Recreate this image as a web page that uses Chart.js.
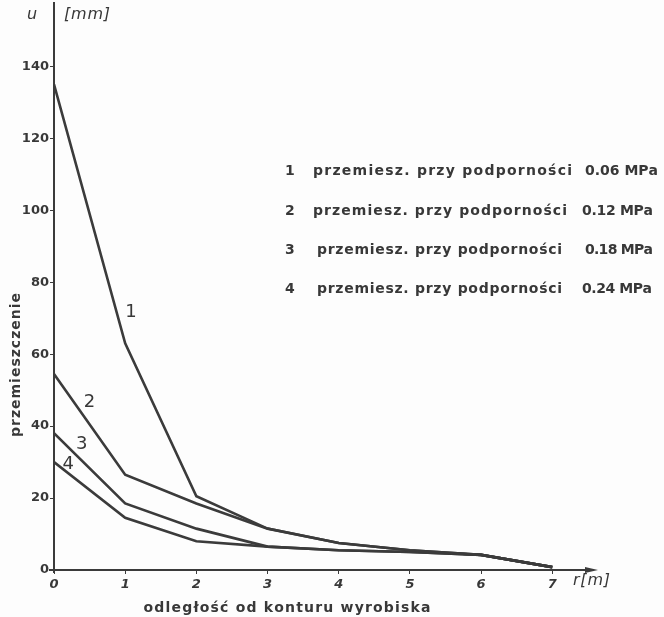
<!DOCTYPE html>
<html lang="pl">
<head>
<meta charset="UTF-8">
<title>Przemieszczenie u w funkcji odległości r</title>
<script src="https://cdn.jsdelivr.net/npm/chart.js"></script>
<style>
  html, body { margin: 0; padding: 0; background: #fdfdfd; }
  #wrap { width: 664px; height: 617px; }
</style>
</head>
<body>
<div id="wrap"><canvas id="chart" width="664" height="617"></canvas></div>
<script>
// odległość od konturu wyrobiska r [m]
const distances = [0, 1, 2, 3, 4, 5, 6, 7];
// przemieszczenie u [mm] dla kolejnych podporności
const disp006 = [135, 63, 20.5, 11.5, 7.5, 5.5, 4.2, 0.8];
const disp012 = [54.5, 26.5, 18.5, 11.5, 7.5, 5.5, 4.2, 0.8];
const disp018 = [38, 18.5, 11.5, 6.5, 5.5, 5, 4.2, 0.8];
const disp024 = [30, 14.5, 8, 6.5, 5.5, 5, 4.2, 0.8];
const curveNumbers = ['1', '2', '3', '4'];
const supports = ['0.06 MPa', '0.12 MPa', '0.18 MPa', '0.24 MPa'];
const xTicks = [0, 1, 2, 3, 4, 5, 6, 7];
const yTicks = [0, 20, 40, 60, 80, 100, 120, 140];

const ink = '#3b3b3b';
const textInk = '#383838';
const font = '"DejaVu Sans", sans-serif';

function points(arr) {
  return distances.map((d, i) => ({ x: d, y: arr[i] }));
}

// where the curve numbers sit, in data units
const numberAt = [
  { x: 1.08, y: 71.5 },
  { x: 0.5, y: 46.5 },
  { x: 0.39, y: 35 },
  { x: 0.2, y: 29.5 }
];

// draw text stretched to a given width by spreading the letters
function spaced(c, text, x, y, width, align) {
  const chars = [...text];
  const natural = chars.reduce((s, ch) => s + c.measureText(ch).width, 0);
  const gap = chars.length > 1 ? (width - natural) / (chars.length - 1) : 0;
  let cx = align === 'center' ? x - width / 2 : x;
  c.textAlign = 'left';
  chars.forEach(ch => {
    c.fillText(ch, cx, y);
    cx += c.measureText(ch).width + gap;
  });
}

const decor = {
  id: 'decor',
  beforeDraw(chart) {
    const c = chart.ctx;
    c.save();
    c.fillStyle = '#fdfdfd';
    c.fillRect(0, 0, chart.width, chart.height);
    c.restore();
  },
  afterDraw(chart) {
    const c = chart.ctx;
    const xs = chart.scales.x, ys = chart.scales.y;
    const x0 = xs.getPixelForValue(0), y0 = ys.getPixelForValue(0);
    c.save();
    // axes with arrows
    c.strokeStyle = ink;
    c.fillStyle = ink;
    c.lineWidth = 2;
    c.beginPath();
    c.moveTo(x0, y0 + 3);
    c.lineTo(x0, 2);
    c.moveTo(x0 - 5, y0);
    c.lineTo(592, y0);
    c.stroke();
    c.beginPath();
    c.moveTo(598, y0);
    c.lineTo(585, y0 - 3);
    c.lineTo(585, y0 + 3);
    c.closePath();
    c.fill();

    c.fillStyle = textInk;
    c.textBaseline = 'middle';
    c.font = 'italic 16px ' + font;
    c.textAlign = 'left';
    c.fillText('u', 27, 15);
    spaced(c, '[mm]', 64, 15, 46);
    spaced(c, 'r[m]', 573, 581, 37);

    c.font = 'bold 14px ' + font;
    spaced(c, 'odległość od konturu wyrobiska', 287, 608, 287, 'center');

    c.save();
    c.translate(16, 365);
    c.rotate(-Math.PI / 2);
    spaced(c, 'przemieszczenie', 0, 0, 144, 'center');
    c.restore();

    // legend block
    const rows = [171, 211, 250, 289];
    const textX = [313, 313, 317, 317];
    const textW = [259, 254, 245, 245];
    const valX = [585, 582, 585, 582];
    const valW = [73, 71, 68, 70];
    c.font = 'bold 14px ' + font;
    rows.forEach((ry, i) => {
      c.textAlign = 'left';
      c.fillText(curveNumbers[i], 285, ry);
      spaced(c, 'przemiesz. przy podporności', textX[i], ry, textW[i]);
      spaced(c, supports[i], valX[i], ry, valW[i]);
    });

    // curve numbers
    c.font = '18px ' + font;
    c.textAlign = 'center';
    numberAt.forEach((p, i) => {
      c.fillText(curveNumbers[i], xs.getPixelForValue(p.x), ys.getPixelForValue(p.y));
    });
    c.restore();
  }
};

const mkSet = (arr) => ({
  data: points(arr),
  borderColor: ink,
  borderWidth: 2.6,
  pointRadius: 0,
  tension: 0,
  fill: false
});

new Chart(document.getElementById('chart'), {
  type: 'line',
  data: {
    datasets: [mkSet(disp006), mkSet(disp012), mkSet(disp018), mkSet(disp024)]
  },
  options: {
    responsive: false,
    animation: false,
    layout: { padding: { left: 0, right: 69, top: 7, bottom: 0 } },
    plugins: { legend: { display: false }, tooltip: { enabled: false } },
    scales: {
      x: {
        type: 'linear',
        min: 0,
        max: 7.6,
        afterBuildTicks: (s) => { s.ticks = xTicks.map(v => ({ value: v })); },
        afterFit: (s) => { s.height = 47; },
        border: { display: false },
        grid: { drawOnChartArea: false, tickLength: 4, color: ink },
        ticks: {
          color: textInk,
          padding: 3,
          font: { family: font, size: 13, weight: 'bold', style: 'italic' }
        }
      },
      y: {
        min: 0,
        max: 156,
        afterBuildTicks: (s) => { s.ticks = yTicks.map(v => ({ value: v })); },
        afterFit: (s) => { s.width = 54; },
        border: { display: false },
        grid: { drawOnChartArea: false, tickLength: 4, color: ink },
        ticks: {
          color: textInk,
          padding: 1,
          font: { family: font, size: 13, weight: 'bold' }
        }
      }
    }
  },
  plugins: [decor]
});
</script>
</body>
</html>
